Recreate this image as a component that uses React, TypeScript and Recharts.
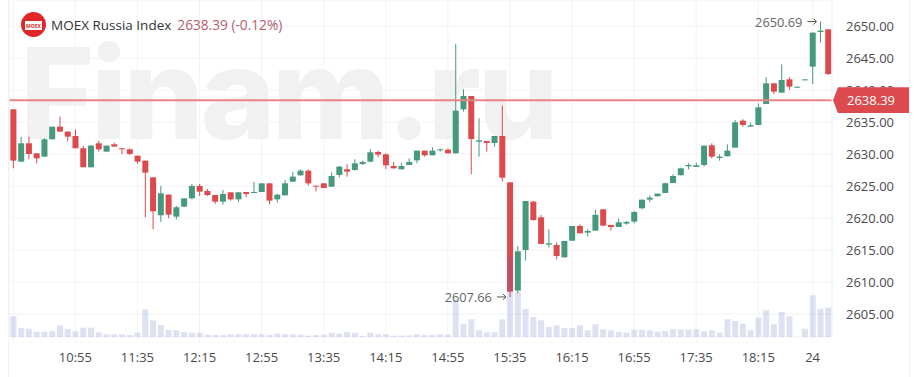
import React from "react";
import { ComposedChart, Bar, XAxis, YAxis, CartesianGrid, ReferenceLine, ReferenceDot } from "recharts";

const UI_FONT = "'Open Sans', sans-serif";
const GREEN = "#46997c";
const RED = "#dd4a4e";
const GRID = "#f2f3f5";
const TEXT = "#4a4a4a";

const times = [
  "10:15","10:20","10:25","10:30","10:35","10:40","10:45","10:50","10:55","11:00","11:05","11:10","11:15","11:20","11:25","11:30",
  "11:35","11:40","11:45","11:50","11:55","12:00","12:05","12:10","12:15","12:20","12:25","12:30","12:35","12:40","12:45","12:50",
  "12:55","13:00","13:05","13:10","13:15","13:20","13:25","13:30","13:35","13:40","13:45","13:50","13:55","14:00","14:05","14:10",
  "14:15","14:20","14:25","14:30","14:35","14:40","14:45","14:50","14:55","15:00","15:05","15:10","15:15","15:20","15:25","15:30",
  "15:35","15:40","15:45","15:50","15:55","16:00","16:05","16:10","16:15","16:20","16:25","16:30","16:35","16:40","16:45","16:50",
  "16:55","17:00","17:05","17:10","17:15","17:20","17:25","17:30","17:35","17:40","17:45","17:50","17:55","18:00","18:05","18:10",
  "18:15","18:20","18:25","18:30","18:35","18:40","18:45","24","24 10:05","24 10:10",
];

const opens = [
  2636.98,2628.8,2631.67,2630.1,2629.58,2632.29,2634.27,2633.49,2632.81,2630.89,2627.92,2631.67,2630.36,2631.51,2630.89,2630.73,
  2629.74,2628.96,2626.35,2620.42,2623.65,2620.21,2621.77,2623.07,2625,2624.22,2623.59,2622.55,2624.01,2622.91,2624.06,2623.9,
  2624.06,2625.41,2622.91,2623.54,2625.67,2626.66,2627.39,2625.05,2625.41,2624.89,2626.72,2627.6,2627.5,2628.44,2628.8,2630.31,
  2629.95,2628.12,2627.6,2628.28,2629,2630.52,2629.79,2630.57,2630.67,2630.1,2636.98,2639.06,2631.92,2632.03,2631.72,2632.81,
  2625.57,2608.65,2614.99,2622.55,2620.1,2615.83,2615.78,2613.85,2616.45,2618.75,2617.71,2618.02,2621.35,2618.91,2618.59,2619.12,
  2619.43,2621.51,2622.86,2623.39,2623.91,2625.47,2626.67,2628.07,2627.97,2628.28,2631.35,2629.37,2629.64,2630.99,2635.21,2634.27,
  2634.53,2637.81,2641.04,2639.58,2641.66,2640.36,2641.51,2643.64,2649.06,2649.48,
];
const highs = [
  2636.98,2632.71,2632.71,2630.1,2632.45,2634.27,2635.83,2633.49,2633.85,2631.25,2631.41,2632.08,2631.3,2631.77,2630.89,2630.89,
  2629.74,2628.96,2626.35,2625,2623.65,2621.88,2623.07,2625.31,2625.31,2624.53,2623.59,2624.37,2624.01,2624.01,2624.06,2625.62,
  2625.41,2625.41,2623.75,2625.94,2627.19,2627.6,2627.6,2625.05,2625.41,2627.13,2628.12,2628.38,2629.16,2628.95,2630.73,2630.52,
  2630.1,2628.75,2628.64,2629.32,2630.52,2630.52,2631.04,2630.83,2630.88,2647.18,2640.1,2639.06,2635.57,2632.03,2632.81,2637.55,
  2625.57,2615.62,2622.65,2622.65,2620.47,2618.23,2616.19,2616.4,2618.75,2619,2618.23,2621.3,2621.35,2618.91,2619.9,2619.53,
  2621.09,2622.86,2623.49,2623.8,2625.57,2626.82,2627.86,2628.54,2628.65,2631.3,2631.67,2629.95,2631.51,2635.31,2635.42,2634.89,
  2637.91,2641.98,2641.04,2644.01,2641.98,2640.52,2641.66,2648.96,2650.69,2649.48,
];
const lows = [
  2627.76,2628.8,2629.17,2628.54,2629.58,2632.29,2633.49,2631.93,2630.89,2627.92,2627.92,2630.36,2630.36,2631.15,2629.95,2629.84,
  2628.44,2620.1,2618.23,2619.38,2619.95,2619.79,2621.67,2622.92,2623.44,2623.44,2622.19,2622.08,2622.71,2622.5,2623.23,2623.9,
  2624.06,2622.13,2622.39,2623.54,2625.67,2626.61,2625.05,2624.16,2624.64,2624.89,2626.35,2626.46,2627.39,2628.28,2628.7,2629.48,
  2627.65,2627.7,2627.6,2628.28,2628.54,2629.58,2629.79,2630.36,2630.1,2630.1,2636.61,2626.82,2629.58,2630.36,2631.14,2625.68,
  2607.66,2608.23,2613.33,2619.58,2615.89,2615.41,2613.54,2613.8,2616.45,2617.6,2617.08,2618.02,2618.8,2618.02,2618.59,2618.96,
  2619.17,2621.35,2622.5,2623.39,2623.91,2625.47,2626.67,2627.6,2627.97,2628.02,2629.27,2628.96,2629.64,2630.99,2634.27,2634.27,
  2634.53,2637.81,2639.37,2639.58,2640,2640.36,2641.51,2640.93,2647.39,2642.34,
];
const closes = [
  2628.96,2631.67,2630,2629.32,2632.29,2634.27,2633.49,2632.71,2630.89,2627.92,2631.3,2630.73,2631.3,2631.15,2630.78,2630,
  2628.8,2627.08,2621.04,2623.85,2620.52,2621.67,2623.07,2625,2624.11,2623.59,2622.55,2623.75,2622.91,2624.01,2623.75,2624.06,
  2625.41,2622.71,2623.64,2625.41,2626.46,2627.39,2625.41,2624.95,2624.69,2626.56,2628.02,2627.24,2628.54,2628.75,2630.26,2629.89,
  2628.23,2627.76,2628.12,2628.75,2630.52,2629.79,2630.52,2630.73,2630.1,2636.77,2639.06,2632.34,2632.13,2631.72,2632.81,2626.3,
  2608.49,2614.79,2622.65,2619.68,2615.94,2616.04,2614.06,2616.4,2618.75,2617.6,2617.97,2620.5,2618.8,2618.59,2619.32,2619.38,
  2620.93,2622.86,2623.18,2623.8,2625.42,2626.56,2627.76,2628.28,2628.23,2631.3,2629.58,2629.58,2630.52,2634.95,2634.53,2634.48,
  2637.29,2641.04,2639.74,2641.56,2640.52,2640.52,2641.66,2648.96,2649.27,2642.5,
];
const volumes = [
  20.7,9,8.3,5.3,5.3,6,11.7,8,5.7,9.3,9.3,4.7,2.7,2.7,2.7,2,
  4.3,27.7,16.7,12,7,6.7,5,4.3,4.3,2.3,2,2,2.7,2.7,2.7,2.7,
  2.7,2,3.5,2.7,2.7,2.3,1.3,2,2.3,4,3.3,5,4.3,1,4.3,2.7,
  2.7,1.3,1.3,1.7,2.7,2,2,2.7,2.3,37,12.7,17.7,6.7,4.7,4.7,17.7,
  80,45,28,20,16.7,10,11.7,9,9,11.7,6.7,12.7,7.7,6.7,5,4.3,
  7.3,7.3,6.7,5.3,6,8,7.7,7.3,8,5.7,6.7,4.3,17.7,16,13.3,6.7,
  19.3,26.7,12.7,25,20.7,0,8.3,41.7,28.3,29.3,
];

const priceTicks = [2605, 2610, 2615, 2620, 2625, 2630, 2635, 2640, 2645, 2650];
const timeTicks = ["10:15","10:55","11:35","12:15","12:55","13:35","14:15","14:55","15:35","16:15","16:55","17:35","18:15","24"];
const lastPrice = 2638.39;
const changeText = "2638.39 (-0.12%)";
const priceDomain = [2601.4, 2654.06];
const plotHeight = 337;

const data = times.map((time, i) => ({
  time,
  open: opens[i],
  high: highs[i],
  low: lows[i],
  close: closes[i],
  volume: volumes[i],
}));

// body and wick come out of the high-low range that the Bar already scaled
function Candle(props: any) {
  const { x, y, width, height, payload: d } = props;
  const color = d.close >= d.open ? GREEN : RED;
  const perUnit = height / (d.high - d.low);
  const top = y + (d.high - Math.max(d.open, d.close)) * perUnit;
  const bottom = y + (d.high - Math.min(d.open, d.close)) * perUnit;
  const cx = x + width / 2;
  return (
    <g>
      <line x1={cx} x2={cx} y1={y} y2={y + height} stroke={color} strokeWidth={1} />
      <rect x={x} y={top} width={width} height={Math.max(bottom - top, 1)} fill={color} />
    </g>
  );
}

function ExtremeMark({ cx, cy, label }: any) {
  const ax = cx - 13;
  return (
    <g>
      <text x={cx - 18} y={cy + 5.5} textAnchor="end" fill="#666" fontSize={12.8} fontFamily={UI_FONT}>
        {label}
      </text>
      <path d={`M${ax} ${cy} h9 m-3 -3 l3 3 l-3 3`} stroke="#555" fill="none" strokeWidth={1} />
    </g>
  );
}

export default function App() {
  // the tag has to sit over the 2640 tick, and axis ticks paint above reference lines, so it is a div on top
  const lastY = ((priceDomain[1] - lastPrice) / (priceDomain[1] - priceDomain[0])) * plotHeight;
  return (
    <div style={{ position: "absolute", left: 0, top: 0, width: 914, height: 377, background: "#fff", overflow: "hidden" }}>
      <div
        style={{
          position: "absolute",
          left: 20,
          top: 43,
          fontFamily: "Inter, sans-serif",
          fontWeight: 800,
          fontSize: 127,
          letterSpacing: -3.4,
          lineHeight: "100px",
          color: "#f1f1f1",
          whiteSpace: "nowrap",
        }}
      >
        Finam.ru
      </div>
      <div style={{ position: "absolute", left: 8, top: 0, width: 1, height: 377, background: GRID }} />
      <div style={{ position: "absolute", left: 909, top: 0, width: 1, height: 377, background: GRID }} />
      <div style={{ position: "absolute", left: 0, top: 0 }}>
        <ComposedChart width={914} height={377} data={data} margin={{ top: 0, right: 0, bottom: 0, left: 9.4 }}>
          <CartesianGrid stroke={GRID} strokeWidth={1} />
          <XAxis
            dataKey="time"
            height={40}
            ticks={timeTicks}
            interval={0}
            axisLine={false}
            tickSize={5}
            tickMargin={11}
            tickLine={{ stroke: GRID }}
            tick={{ fill: TEXT, fontSize: 13, fontFamily: UI_FONT }}
            tickFormatter={(t: string) => (t === "10:15" ? "" : t)}
          />
          <XAxis xAxisId="vol" dataKey="time" hide />
          <YAxis
            orientation="right"
            width={82}
            domain={priceDomain}
            ticks={priceTicks}
            allowDataOverflow
            axisLine={{ stroke: GRID }}
            tickSize={4}
            tickMargin={10}
            tickLine={{ stroke: GRID }}
            tick={{ fill: TEXT, fontSize: 13, fontFamily: UI_FONT }}
            tickFormatter={(v: number) => v.toFixed(2)}
          />
          <YAxis yAxisId="vol" hide domain={[0, plotHeight]} />
          <Bar
            dataKey={(d: any) => [d.low, d.high]}
            barSize={6}
            shape={Candle}
            isAnimationActive={false}
          />
          <Bar
            dataKey="volume"
            xAxisId="vol"
            yAxisId="vol"
            barSize={6}
            fill="#5c6bc0"
            fillOpacity={0.2}
            isAnimationActive={false}
          />
          <ReferenceLine y={lastPrice} stroke="#e88487" strokeWidth={2} />
          <ReferenceDot x="24 10:05" y={2650.69} r={0} shape={(p: any) => <ExtremeMark {...p} label="2650.69" />} />
          <ReferenceDot x="15:35" y={2607.66} r={0} shape={(p: any) => <ExtremeMark {...p} label="2607.66" />} />
        </ComposedChart>
      </div>
      <div
        style={{
          position: "absolute",
          left: 833,
          top: lastY - 13,
          width: 76,
          height: 26,
          background: RED,
          clipPath: "polygon(0 50%, 5px 0, 100% 0, 100% 100%, 5px 100%)",
          color: "#fff",
          fontFamily: UI_FONT,
          fontSize: 13,
          lineHeight: "26px",
          paddingLeft: 14,
          boxSizing: "border-box",
        }}
      >
        {lastPrice.toFixed(2)}
      </div>
      <div
        style={{
          position: "absolute",
          left: 51,
          top: 15,
          fontFamily: UI_FONT,
          fontSize: 13.5,
          lineHeight: "20px",
          color: "#333",
          whiteSpace: "nowrap",
        }}
      >
        MOEX Russia Index
        <span style={{ marginLeft: 6, fontSize: 13.7, color: "#b4606e" }}>{changeText}</span>
      </div>
      <svg style={{ position: "absolute", left: 21, top: 12 }} width={25} height={25}>
        <circle cx={12.5} cy={12.5} r={12.5} fill="#e02626" />
        <path d="M4 9 H21 V18 H4 Z" fill="#fff" />
        <text x={12.5} y={16} textAnchor="middle" fontSize={5} fontWeight={700} fill="#e02626" fontFamily={UI_FONT}>
          MOEX
        </text>
      </svg>
    </div>
  );
}
